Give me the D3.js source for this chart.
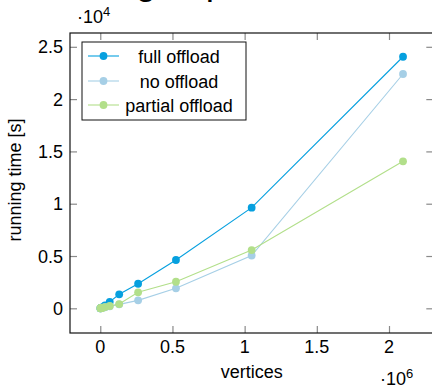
<!DOCTYPE html>
<html lang="en">
<head>
    <meta charset="UTF-8">
    <title>Running time vs vertices</title>
    <script src="https://d3js.org/d3.v7.min.js"></script>
    <style>
        html, body { margin: 0; padding: 0; background: white; }
        body { font-family: "Liberation Sans", Arial, sans-serif; }
        svg { display: block; }
    </style>
</head>
<body>
<script>
    // data (x = vertices, y = seconds)
    const vertices = [1024, 2048, 4096, 8192, 16384, 32768, 65536, 131072, 262144, 524288, 1048576, 2097152];
    const fullOffload = [5, 10, 20, 50, 120, 280, 620, 1340, 2350, 4620, 9620, 24050];
    const noOffload = [3, 6, 12, 25, 50, 100, 190, 380, 760, 1910, 5050, 22400];
    const partialOffload = [4, 8, 15, 30, 60, 120, 220, 410, 1530, 2540, 5570, 14050];
    const seriesNames = ["full offload", "no offload", "partial offload"];
    const seriesColors = ["#06a0df", "#a6cfe6", "#b2df8a"];
    const xTicks = [0, 500000, 1000000, 1500000, 2000000];
    const yTicks = [0, 5000, 10000, 15000, 20000, 25000];

    const W = 432, H = 388;
    const plot = {left: 70, right: 433.3, top: 33, bottom: 333};
    const fs = 18;

    const svg = d3.select("body").append("svg")
        .attr("width", W)
        .attr("height", H);

    const x = d3.scaleLinear().domain([-209715, 2306867]).range([plot.left, plot.right]);
    const y = d3.scaleLinear().domain([-2360, 26320]).range([plot.bottom, plot.top]);

    // title, mostly above the visible area
    svg.append("text")
        .attr("x", 35)
        .attr("y", -6)
        .style("font-size", "37px")
        .text("Scaling experiment");

    // inward ticks on all four sides
    const tickLen = 7;
    function styleTicks(g) {
        g.select(".domain").remove();
        g.selectAll(".tick line").attr("stroke", "#8a8a8a").attr("stroke-width", 1.2);
        g.selectAll(".tick text").remove();
    }
    svg.append("g").attr("transform", `translate(0,${plot.bottom})`)
        .call(d3.axisBottom(x).tickValues(xTicks).tickSize(-tickLen)).call(styleTicks);
    svg.append("g").attr("transform", `translate(0,${plot.top})`)
        .call(d3.axisTop(x).tickValues(xTicks).tickSize(-tickLen)).call(styleTicks);
    svg.append("g").attr("transform", `translate(${plot.left},0)`)
        .call(d3.axisLeft(y).tickValues(yTicks).tickSize(-tickLen)).call(styleTicks);
    svg.append("g").attr("transform", `translate(${plot.right},0)`)
        .call(d3.axisRight(y).tickValues(yTicks).tickSize(-tickLen)).call(styleTicks);

    // tick labels
    svg.append("g").selectAll("text")
        .data(xTicks)
        .join("text")
        .attr("x", d => x(d))
        .attr("y", 353)
        .attr("text-anchor", "middle")
        .style("font-size", fs + "px")
        .text(d => d3.format("")(d / 1e6));

    svg.append("g").selectAll("text")
        .data(yTicks)
        .join("text")
        .attr("x", 63)
        .attr("y", d => y(d) + 6.5)
        .attr("text-anchor", "end")
        .style("font-size", fs + "px")
        .text(d => d3.format("")(d / 1e4));

    // frame
    svg.append("rect")
        .attr("x", plot.left)
        .attr("y", plot.top)
        .attr("width", plot.right - plot.left)
        .attr("height", plot.bottom - plot.top)
        .attr("fill", "none")
        .attr("stroke", "#111")
        .attr("stroke-width", 1.2);

    // scale factor labels
    function multiplier(px, py, exp) {
        const t = svg.append("text").attr("x", px).attr("y", py).style("font-size", fs + "px");
        t.append("tspan").text("\u00b710");
        t.append("tspan").attr("dy", -7).style("font-size", "13px").text(exp);
    }
    multiplier(77, 23, "4");
    multiplier(380, 385, "6");

    // axis titles
    svg.append("text")
        .attr("x", (plot.left + plot.right) / 2)
        .attr("y", 378)
        .attr("text-anchor", "middle")
        .style("font-size", fs + "px")
        .text("vertices");

    svg.append("text")
        .attr("transform", `translate(21,180) rotate(-90)`)
        .attr("text-anchor", "middle")
        .style("font-size", fs + "px")
        .text("running time [s]");

    // series
    const allSeries = [fullOffload, noOffload, partialOffload];
    const line = d3.line()
        .x(d => x(d[0]))
        .y(d => y(d[1]));

    allSeries.forEach((vals, i) => {
        const pts = vertices.map((v, j) => [v, vals[j]]);
        const g = svg.append("g");
        g.append("path")
            .datum(pts)
            .attr("fill", "none")
            .attr("stroke", seriesColors[i])
            .attr("stroke-width", 1.1)
            .attr("d", line);
        g.selectAll("circle")
            .data(pts)
            .join("circle")
            .attr("cx", d => x(d[0]))
            .attr("cy", d => y(d[1]))
            .attr("r", 3.9)
            .attr("fill", seriesColors[i]);
    });

    // legend
    const legend = svg.append("g");
    legend.append("rect")
        .attr("x", 82)
        .attr("y", 42)
        .attr("width", 164)
        .attr("height", 78)
        .attr("fill", "white")
        .attr("stroke", "#111")
        .attr("stroke-width", 1);

    const legendY = [56, 81, 105];
    seriesNames.forEach((name, i) => {
        const ly = legendY[i];
        legend.append("line")
            .attr("x1", 88).attr("x2", 119)
            .attr("y1", ly).attr("y2", ly)
            .attr("stroke", seriesColors[i])
            .attr("stroke-width", 1.1);
        legend.append("circle")
            .attr("cx", 103.5).attr("cy", ly)
            .attr("r", 3.9)
            .attr("fill", seriesColors[i]);
        legend.append("text")
            .attr("x", 179)
            .attr("y", ly + 6.5)
            .attr("text-anchor", "middle")
            .style("font-size", fs + "px")
            .text(name);
    });
</script>
</body>
</html>
